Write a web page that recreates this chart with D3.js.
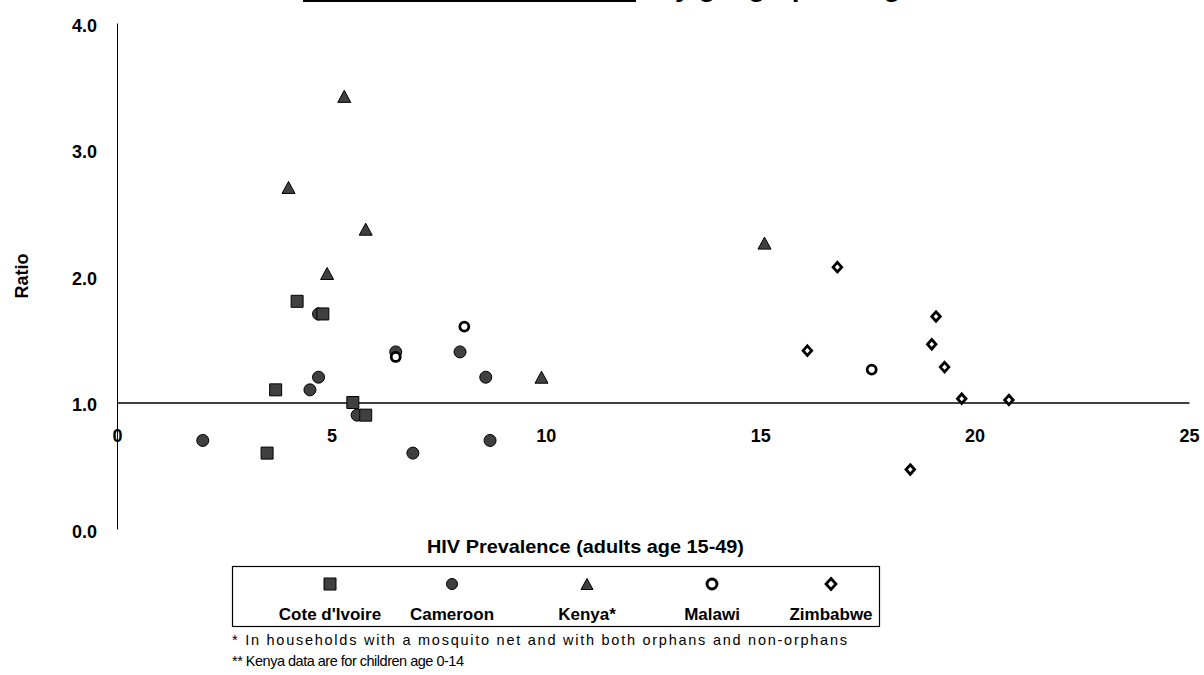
<!DOCTYPE html>
<html><head><meta charset="utf-8">
<script src="https://cdn.jsdelivr.net/npm/d3@7"></script>
<style>
body{margin:0;background:#fff;}
svg{display:block;font-family:"Liberation Sans",Arial,sans-serif;}
</style></head>
<body>
<svg id="chart" width="1204" height="675"></svg>
<script>
// ---- data ----
const seriesNames = ["Cote d'Ivoire","Cameroon","Kenya*","Malawi","Zimbabwe"];
const coteX = [4.2, 4.8, 3.7, 5.5, 5.8, 3.5];
const coteY = [1.8, 1.7, 1.1, 1.0, 0.9, 0.6];
const camX = [4.7, 4.7, 4.5, 5.6, 6.5, 8.0, 8.6, 8.7, 6.9, 2.0];
const camY = [1.7, 1.2, 1.1, 0.9, 1.4, 1.4, 1.2, 0.7, 0.6, 0.7];
const kenX = [5.3, 4.0, 5.8, 4.9, 9.9, 15.1];
const kenY = [3.42, 2.7, 2.37, 2.02, 1.2, 2.26];
const malX = [8.1, 6.5, 17.6];
const malY = [1.6, 1.36, 1.26];
const zimX = [16.8, 19.1, 16.1, 19.0, 19.3, 19.7, 20.8, 18.5];
const zimY = [2.07, 1.68, 1.41, 1.46, 1.28, 1.03, 1.02, 0.47];
const xTicks = [0, 5, 10, 15, 20, 25];
const yTicks = [0, 1, 2, 3, 4];
const footnotes = ["* In households with a mosquito net and with both orphans and non-orphans",
                   "** Kenya data are for children age 0-14"];

const svg = d3.select("#chart");
const x = d3.scaleLinear().domain([0, 25]).range([117, 1189]);
const y = d3.scaleLinear().domain([0, 4]).range([529, 23]);

// marker shapes
const shapes = {
  square: s => `M${-s/2},${-s/2}h${s}v${s}h${-s}Z`,
  circle: s => `M${-s/2},0a${s/2},${s/2} 0 1,0 ${s},0a${s/2},${s/2} 0 1,0 ${-s},0Z`,
  triangle: s => `M0,${-s/2}L${s/2+0.5},${s/2}L${-s/2-0.5},${s/2}Z`,
  diamond: s => `M0,${-s/2}L${s*0.45},0L0,${s/2}L${-s*0.45},0Z`
};
const styles = {
  "Cote d'Ivoire": {shape: "square", size: 12, legSize: 12, fill: "#404040", stroke: "#000", sw: 1},
  "Cameroon": {shape: "circle", size: 12, legSize: 11, fill: "#404040", stroke: "#000", sw: 1},
  "Kenya*": {shape: "triangle", size: 12, legSize: 11, fill: "#404040", stroke: "#000", sw: 1},
  "Malawi": {shape: "circle", size: 9, legSize: 10, fill: "#fff", stroke: "#000", sw: 2.8},
  "Zimbabwe": {shape: "diamond", size: 9.5, legSize: 11, fill: "#fff", stroke: "#000", sw: 2.8}
};
const seriesData = {
  "Cote d'Ivoire": coteX.map((v,i)=>({x:v,y:coteY[i]})),
  "Cameroon": camX.map((v,i)=>({x:v,y:camY[i]})),
  "Kenya*": kenX.map((v,i)=>({x:v,y:kenY[i]})),
  "Malawi": malX.map((v,i)=>({x:v,y:malY[i]})),
  "Zimbabwe": zimX.map((v,i)=>({x:v,y:zimY[i]}))
};

// title fragment (cut at the top of the page)
svg.append("rect").attr("x", 303).attr("y", -10).attr("width", 333).attr("height", 12).attr("fill", "#000");
svg.append("text").attr("x", 658).attr("y", -4).attr("font-size", 28).attr("font-weight", "bold")
  .text("by geographic region");

// y axis
const yAxis = svg.append("g").attr("transform", `translate(${x(0)},0)`)
  .call(d3.axisLeft(y).tickValues(yTicks).tickFormat(d3.format(".1f")).tickSize(0).tickPadding(20));
yAxis.select(".domain").attr("stroke", "#000").attr("stroke-width", 1);
yAxis.selectAll("text").attr("font-size", 18).attr("font-weight", "bold").attr("fill", "#000")
  .attr("font-family", "Liberation Sans, Arial, sans-serif").attr("dy", "0.45em");

// x axis crossing at ratio 1.0
const xAxis = svg.append("g").attr("transform", `translate(0,${y(1)})`)
  .call(d3.axisBottom(x).tickValues(xTicks).tickFormat(d3.format("d")).tickSize(0).tickPadding(27));
xAxis.select(".domain").attr("stroke", "#000").attr("stroke-width", 1.6);
xAxis.selectAll("text").attr("font-size", 18).attr("font-weight", "bold").attr("fill", "#000")
  .attr("font-family", "Liberation Sans, Arial, sans-serif");

// points
const drawOrder = ["Cameroon", "Cote d'Ivoire", "Kenya*", "Malawi", "Zimbabwe"];
drawOrder.forEach(name => {
  const st = styles[name];
  svg.append("g").selectAll("path").data(seriesData[name]).join("path")
    .attr("transform", d => `translate(${x(d.x)},${y(d.y)})`)
    .attr("d", shapes[st.shape](st.size))
    .attr("fill", st.fill).attr("stroke", st.stroke).attr("stroke-width", st.sw);
});

// axis titles
svg.append("text").attr("transform", "translate(28,276) rotate(-90)").attr("text-anchor", "middle")
  .attr("font-size", 18).attr("font-weight", "bold").text("Ratio");
svg.append("text").attr("x", 427).attr("y", 553)
  .attr("font-size", 19).attr("font-weight", "bold")
  .attr("textLength", 317).attr("lengthAdjust", "spacingAndGlyphs")
  .text("HIV Prevalence (adults age 15-49)");

// legend
const legX = [330, 452, 587, 712, 831];
svg.append("rect").attr("x", 232.5).attr("y", 566.5).attr("width", 647).attr("height", 60)
  .attr("fill", "none").attr("stroke", "#000").attr("stroke-width", 1.2);
seriesNames.forEach((name, i) => {
  const st = styles[name];
  svg.append("path").attr("transform", `translate(${legX[i]},584)`)
    .attr("d", shapes[st.shape](st.legSize))
    .attr("fill", st.fill).attr("stroke", st.stroke).attr("stroke-width", st.sw);
  svg.append("text").attr("x", legX[i]).attr("y", 620).attr("text-anchor", "middle")
    .attr("font-size", 17).attr("font-weight", "bold").text(name);
});

// footnotes
const fnLen = [615, 232];
footnotes.forEach((t, i) => {
  svg.append("text").attr("x", 232).attr("y", 645 + i * 21).attr("font-size", 14.5)
    .attr("textLength", fnLen[i]).attr("lengthAdjust", "spacing").text(t);
});
</script>
</body></html>
